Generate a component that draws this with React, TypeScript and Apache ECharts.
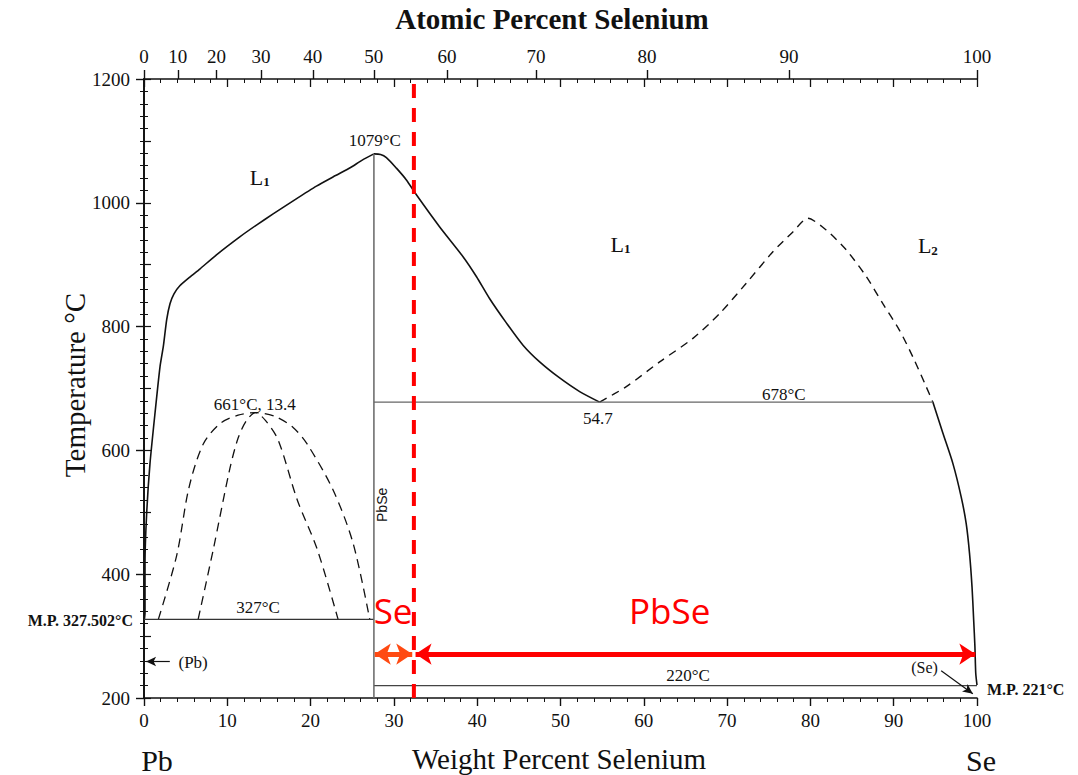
import React, { useEffect, useRef } from 'react';
import * as echarts from 'echarts';

// ---- axis tick labels ----
const weightTicks = [0, 10, 20, 30, 40, 50, 60, 70, 80, 90, 100];
const atomicTicks = [0, 10, 20, 30, 40, 50, 60, 70, 80, 90, 100];
const tempTicks = [200, 400, 600, 800, 1000, 1200];
const M_SE = 78.96;
const M_PB = 207.2;
const atToWt = (a: number) => (a * M_SE) / (a * M_SE + (100 - a) * M_PB) * 100;
const atomicTickPos = atomicTicks.map(atToWt);

// ---- phase boundaries (wt% Se, °C) ----
const leftLiquidus: [number, number][] = [
  [0.05, 327.5], [0.12, 337], [0.12, 417], [0.32, 498], [0.72, 579], [1.32, 660],
  [1.92, 735], [2.32, 768], [2.72, 811], [3.12, 837], [3.6, 853], [4.3, 866],
  [5.5, 880], [6.7, 893], [8.7, 916], [11.5, 945], [13.5, 964], [15.5, 982],
  [18.0, 1004], [20.7, 1027], [23.0, 1044], [24.8, 1057], [26.2, 1069], [27.6, 1079],
];
const rightLiquidus: [number, number][] = [
  [27.6, 1079], [28.4, 1078], [29.1, 1073], [30.3, 1056], [31.5, 1037], [32.7, 1013],
  [35.5, 961], [38.3, 913], [39.9, 881], [41.5, 845], [43.5, 806], [45.5, 770],
  [47.5, 743], [49.9, 717], [52.3, 695], [54.7, 678],
];
const seLiquidus: [number, number][] = [
  [94.7, 678], [95.9, 628], [97.1, 579], [98.1, 525], [98.7, 482], [99.1, 434],
  [99.4, 380], [99.6, 326], [99.75, 283], [99.85, 240], [100, 221],
];
const liquidGap: [number, number][] = [
  [54.7, 678], [57.9, 703], [61.9, 743], [65.9, 781], [69.1, 821], [72.3, 870],
  [75.5, 921], [77.9, 953], [79.7, 975], [81.9, 956], [84.3, 924], [86.7, 881],
  [88.7, 837], [90.7, 794], [92.3, 751], [93.9, 703], [94.7, 678],
];
const outerDome: [number, number][] = [
  [1.72, 327], [3.92, 430], [5.4, 540], [7.1, 610], [9.1, 643], [11.3, 657],
  [13.4, 661], [15.7, 655], [17.9, 637], [19.6, 610], [22.7, 536], [25.1, 450], [27.1, 327],
];
const innerDome: [number, number][] = [
  [6.5, 327], [8.3, 439], [10.3, 570], [11.3, 620], [12.3, 648], [13.4, 661],
  [14.6, 648], [16.1, 617], [18.4, 520], [20.8, 440], [23.3, 327],
];
const monotectic327: [number, number][] = [[0, 327], [27.6, 327]];
const monotectic678: [number, number][] = [[27.6, 678], [94.7, 678]];
const eutectic220: [number, number][] = [[27.6, 220], [100, 220]];
const pbseLine: [number, number][] = [[27.6, 200], [27.6, 1079]];
const redDashed: [number, number][] = [[32.4, 200], [32.4, 1200]];

// ---- annotation anchors ----
const annotations = [
  { text: '1079°C', at: [27.7, 1101], size: 17 },
  { text: '661°C, 13.4', at: [13.3, 674], size: 17 },
  { text: '327°C', at: [13.7, 347], size: 17 },
  { text: '54.7', at: [54.5, 651], size: 17 },
  { text: '678°C', at: [76.8, 691], size: 17 },
  { text: '220°C', at: [65.3, 237], size: 17 },
  { text: '(Pb)', at: [5.9, 258], size: 17 },
  { text: '(Se)', at: [93.7, 249], size: 16 },
];
const phaseLabels = [
  { n: '1', at: [13.9, 1043] },
  { n: '1', at: [57.2, 935] },
  { n: '2', at: [94.1, 932] },
];

const SERIF = '"Liberation Serif", "Times New Roman", serif';
const INK = '#111111';

const line = (data: [number, number][], color: string, width: number, type: any = 'solid', z = 3, smooth: any = false) => ({
  type: 'line', data, symbol: 'none', showSymbol: false, silent: true, z, smooth,
  lineStyle: { color, width, type }, xAxisIndex: 0, yAxisIndex: 0, animation: false,
});

export default function App() {
  const ref = useRef<HTMLDivElement>(null);
  useEffect(() => {
    const chart = echarts.init(ref.current!, null, { renderer: 'svg' });
    const tickFont = { fontFamily: SERIF, fontSize: 19, color: INK };
    const txt = (size: number, extra: any = {}) => ({
      fontSize: size, fontFamily: SERIF, color: INK, textBorderWidth: 0, opacity: 1, ...extra,
    });
    const option: any = {
      animation: false,
      backgroundColor: '#fff',
      grid: { left: 144, right: 101, top: 79, bottom: 77, containLabel: false, outerBoundsMode: 'none' },
      xAxis: [
        {
          type: 'value', position: 'bottom', min: 0, max: 100, interval: 10,
          axisLine: { lineStyle: { color: INK, width: 1.6 } },
          axisTick: { length: 8, lineStyle: { color: INK, width: 1.4 } },
          minorTick: { show: true, splitNumber: 5, length: 4, lineStyle: { color: INK, width: 1 } },
          splitLine: { show: false },
          axisLabel: { ...tickFont, margin: 13, formatter: (v: number) => (weightTicks.includes(v) ? String(v) : '') },
        },
        {
          type: 'value', position: 'top', min: 0, max: 100,
          axisLine: { lineStyle: { color: INK, width: 1.6 } },
          axisTick: { length: 9, customValues: atomicTickPos, lineStyle: { color: INK, width: 1.4 } },
          splitLine: { show: false },
          axisLabel: {
            ...tickFont, margin: 13, customValues: atomicTickPos,
            formatter: (v: number) => {
              let best = 0;
              atomicTickPos.forEach((p, i) => { if (Math.abs(p - v) < Math.abs(atomicTickPos[best] - v)) best = i; });
              return String(atomicTicks[best]);
            },
          },
        },
        {
          type: 'value', position: 'top', min: 0, max: 100, interval: 10,
          axisLine: { show: false },
          axisTick: { inside: true, length: 8, lineStyle: { color: INK, width: 1.3 } },
          minorTick: { show: true, splitNumber: 5, length: 4, lineStyle: { color: INK, width: 1 } },
          splitLine: { show: false },
          axisLabel: { show: false },
        },
      ],
      yAxis: [
        {
          type: 'value', position: 'left', min: 200, max: 1200, interval: 200,
          axisLine: { show: true, lineStyle: { color: INK, width: 1.8 } },
          axisTick: { show: true, length: 8, lineStyle: { color: INK, width: 1.4 } },
          minorTick: { show: true, splitNumber: 10, length: 4, lineStyle: { color: INK, width: 1 } },
          splitLine: { show: false },
          axisLabel: { ...tickFont, margin: 14, formatter: (v: number) => (tempTicks.includes(v) ? String(v) : '') },
        },
        {
          type: 'value', position: 'right', min: 200, max: 1200, interval: 100,
          axisLine: { show: true, lineStyle: { color: INK, width: 1.6 } },
          axisTick: { show: true, length: 7, lineStyle: { color: INK, width: 1.2 } },
          minorTick: { show: true, splitNumber: 5, length: 4, lineStyle: { color: INK, width: 1 } },
          splitLine: { show: false },
          axisLabel: { show: false },
        },
      ],
      series: [
        line(leftLiquidus, INK, 1.6, 'solid', 3, 0.2),
        line(rightLiquidus, INK, 1.6, 'solid', 3, 0.25),
        line(seLiquidus, INK, 1.6, 'solid', 3, 0.25),
        line(liquidGap, INK, 1.4, [8, 6], 3, 0.25),
        line(outerDome, INK, 1.3, [9, 6], 3, 0.3),
        line(innerDome, INK, 1.3, [9, 6], 3, 0.3),
        line(monotectic327, '#333', 1.4),
        line(monotectic678, '#666', 1.3),
        line(eutectic220, '#444', 1.3),
        line(pbseLine, '#666', 1.5),
        {
          ...line(redDashed, '#ff0000', 4, [14, 10], 10),
          markLine: {
            silent: true, animation: false, label: { show: false }, symbolSize: [16, 16],
            data: [
              [
                { coord: [27.7, 271], symbol: 'arrow', lineStyle: { color: '#ff4a12', width: 5, type: 'solid' } },
                { coord: [32.2, 271], symbol: 'arrow' },
              ],
              [
                { coord: [32.6, 271], symbol: 'arrow', lineStyle: { color: '#ff0000', width: 5, type: 'solid' } },
                { coord: [99.8, 271], symbol: 'arrow' },
              ],
            ],
          },
        },
        {
          type: 'line', data: [], symbol: 'none', silent: true, z: 4,
          markLine: {
            silent: true, animation: false, label: { show: false }, symbolSize: [7, 10],
            lineStyle: { color: INK, width: 1.2, type: 'solid' },
            data: [
              [{ coord: [3.1, 259], symbol: 'none' }, { coord: [0.25, 259], symbol: 'arrow' }],
              [{ coord: [95.7, 244], symbol: 'none' }, { coord: [99.5, 207], symbol: 'arrow' }],
            ],
          },
        },
        {
          type: 'scatter', symbol: 'circle', symbolSize: 1, silent: true, z: 6,
          itemStyle: { color: 'rgba(0,0,0,0)', opacity: 1 },
          label: { show: true, position: 'inside', ...txt(17) },
          data: [
            ...annotations.map((a) => ({
              value: a.at,
              label: { show: true, position: 'inside', formatter: a.text, ...txt(a.size) },
            })),
            ...phaseLabels.map((p) => ({
              value: p.at,
              label: {
                show: true, position: 'inside', color: INK, textBorderWidth: 0, opacity: 1,
                formatter: `{a|L}{b|${p.n}}`,
                rich: {
                  a: { fontSize: 22, fontFamily: SERIF, color: INK, lineHeight: 24, verticalAlign: 'bottom' },
                  b: { fontSize: 13, fontFamily: SERIF, color: INK, fontWeight: 'bold', lineHeight: 10, verticalAlign: 'bottom' },
                },
              },
            })),
            {
              value: [28.6, 512],
              label: { show: true, position: 'inside', formatter: 'PbSe', rotate: 90, ...txt(14, { fontFamily: '"Liberation Sans", Arial, sans-serif' }) },
            },
            {
              value: [29.9, 342],
              label: { show: true, position: 'inside', formatter: 'Se', ...txt(35, { fontFamily: '"Open Sans", "Noto Sans", sans-serif', color: '#ff0000' }) },
            },
            {
              value: [63.1, 342],
              label: { show: true, position: 'inside', formatter: 'PbSe', ...txt(35, { fontFamily: '"Open Sans", "Noto Sans", sans-serif', color: '#ff0000' }) },
            },
          ],
        },
      ],
      graphic: [
        { type: 'text', x: 552, y: 19, style: { text: 'Atomic Percent Selenium', font: `bold 29px ${SERIF}`, fill: INK, textAlign: 'center', textVerticalAlign: 'middle' } },
        { type: 'text', x: 559, y: 759, style: { text: 'Weight Percent Selenium', font: `29px ${SERIF}`, fill: INK, textAlign: 'center', textVerticalAlign: 'middle' } },
        { type: 'text', x: 75, y: 385, rotation: Math.PI / 2, style: { text: 'Temperature °C', font: `29px ${SERIF}`, fill: INK, textAlign: 'center', textVerticalAlign: 'middle' } },
        { type: 'text', x: 157, y: 760, style: { text: 'Pb', font: `30px ${SERIF}`, fill: INK, textAlign: 'center', textVerticalAlign: 'middle' } },
        { type: 'text', x: 981, y: 760, style: { text: 'Se', font: `30px ${SERIF}`, fill: INK, textAlign: 'center', textVerticalAlign: 'middle' } },
        { type: 'text', x: 133, y: 620, style: { text: 'M.P. 327.502°C', font: `bold 16px ${SERIF}`, fill: INK, textAlign: 'right', textVerticalAlign: 'middle' } },
        { type: 'text', x: 987, y: 689, style: { text: 'M.P. 221°C', font: `bold 16px ${SERIF}`, fill: INK, textAlign: 'left', textVerticalAlign: 'middle' } },
      ],
    };
    chart.setOption(option);
    return () => chart.dispose();
  }, []);
  return (
    <div
      ref={ref}
      style={{ position: 'fixed', left: 0, top: 0, width: 1078, height: 775, background: '#fff' }}
    />
  );
}
